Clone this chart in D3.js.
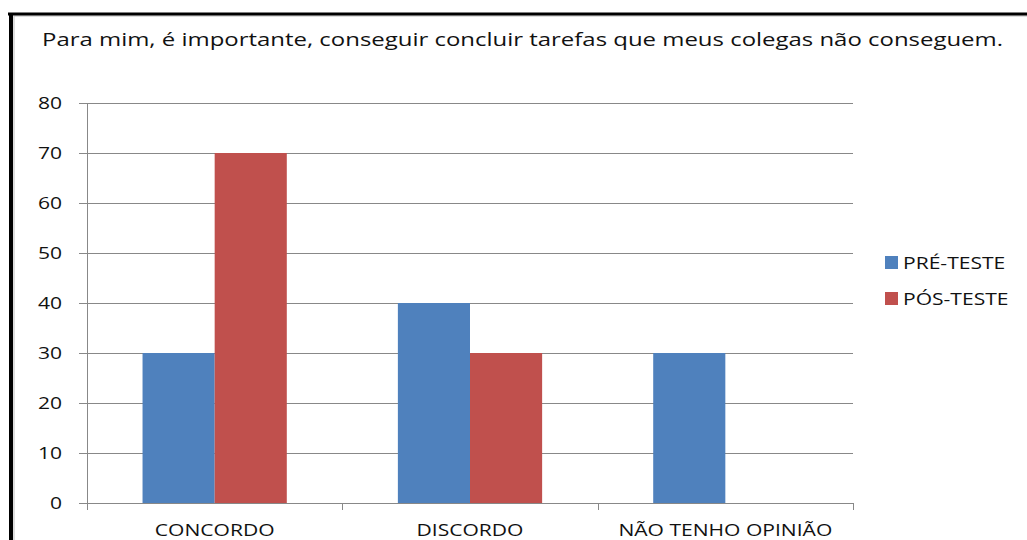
<!DOCTYPE html>
<html>
<head>
<meta charset="utf-8">
<script src="https://cdn.jsdelivr.net/npm/d3@7"></script>
<style>
  body { margin: 0; background: #fff; }
  svg { display: block; font-family: "Open Sans", sans-serif; }
</style>
</head>
<body>
<svg width="1027" height="540"></svg>
<script>
var categories = ["CONCORDO", "DISCORDO", "NÃO TENHO OPINIÃO"];
var seriesNames = ["PRÉ-TESTE", "PÓS-TESTE"];
var preTeste = [30, 40, 30];
var posTeste = [70, 30, 0];
var yTicks = [0, 10, 20, 30, 40, 50, 60, 70, 80];
var colors = ["#4F81BD", "#C0504D"];

var DrawChart = function(){
  var svg = d3.select("svg");
  var stretch = 1.24;

  // stretched text, like the original export
  function label(g, x, y, anchor, size, txt) {
    return g.append("text")
      .attr("transform", "translate(" + x + "," + y + ") scale(" + stretch + ",1)")
      .attr("text-anchor", anchor).attr("font-size", size).attr("fill", "#111")
      .text(txt);
  }

  // frame
  svg.append("rect").attr("x", 14).attr("y", 16).attr("width", 1020).attr("height", 530)
    .attr("fill", "none").attr("stroke", "#bbb").attr("stroke-width", 1);
  svg.append("line").attr("x1", 8).attr("x2", 1027).attr("y1", 14).attr("y2", 14)
    .attr("stroke", "#000").attr("stroke-width", 3);
  svg.append("line").attr("x1", 11).attr("x2", 11).attr("y1", 13).attr("y2", 540)
    .attr("stroke", "#000").attr("stroke-width", 4);

  svg.append("text").attr("x", 42).attr("y", 46)
    .attr("font-size", 18).attr("fill", "#111")
    .attr("textLength", 961).attr("lengthAdjust", "spacingAndGlyphs")
    .text("Para mim, é importante, conseguir concluir tarefas que meus colegas não conseguem.");

  var pLeft = 87, pRight = 853, pTop = 103, pBottom = 503;

  var x = d3.scaleBand().domain(categories).range([pLeft, pRight]);
  var y = d3.scaleLinear().domain([0, 80]).range([pBottom, pTop]);
  var xs = d3.scaleBand().domain(seriesNames).range([0, x.bandwidth()])
    .paddingInner(0).paddingOuter(0.77);

  // grid
  svg.append("g").selectAll("line").data(yTicks).enter().append("line")
    .attr("x1", pLeft - 8).attr("x2", pRight)
    .attr("y1", function(d) { return y(d) + 0.5; })
    .attr("y2", function(d) { return y(d) + 0.5; })
    .attr("stroke", "#888").attr("stroke-width", 1);

  var yl = svg.append("g");
  yTicks.forEach(function(d) { label(yl, 62, y(d) + 6, "end", 17, d); });

  // bars
  var rows = categories.map(function(c, i) {
    return [{ c: c, s: seriesNames[0], v: preTeste[i] }, { c: c, s: seriesNames[1], v: posTeste[i] }];
  });
  svg.append("g").selectAll("g").data(rows).enter().append("g")
    .attr("transform", function(d) { return "translate(" + x(d[0].c) + ",0)"; })
    .selectAll("rect").data(function(d) { return d; }).enter().append("rect")
    .attr("x", function(d) { return xs(d.s); })
    .attr("width", xs.bandwidth())
    .attr("y", function(d) { return y(d.v); })
    .attr("height", function(d) { return y(0) - y(d.v); })
    .attr("fill", function(d, i) { return colors[i]; });

  // axis lines
  svg.append("line").attr("x1", pLeft + 0.5).attr("x2", pLeft + 0.5)
    .attr("y1", pTop).attr("y2", pBottom + 7).attr("stroke", "#888");
  var bounds = categories.map(function(c) { return x(c); }).concat([pRight]);
  svg.append("g").selectAll("line").data(bounds.slice(1)).enter().append("line")
    .attr("x1", function(d) { return Math.round(d) + 0.5; })
    .attr("x2", function(d) { return Math.round(d) + 0.5; })
    .attr("y1", pBottom).attr("y2", pBottom + 7).attr("stroke", "#888");

  var xl = svg.append("g");
  categories.forEach(function(c) { label(xl, x(c) + x.bandwidth() / 2, 536, "middle", 17, c); });

  // legend
  seriesNames.forEach(function(s, i) {
    var ly = 256 + i * 36;
    svg.append("rect").attr("x", 885).attr("y", ly).attr("width", 13).attr("height", 13)
      .attr("fill", colors[i]);
    label(svg, 903, ly + 13, "start", 17, s);
  });
};

DrawChart();
</script>
</body>
</html>
